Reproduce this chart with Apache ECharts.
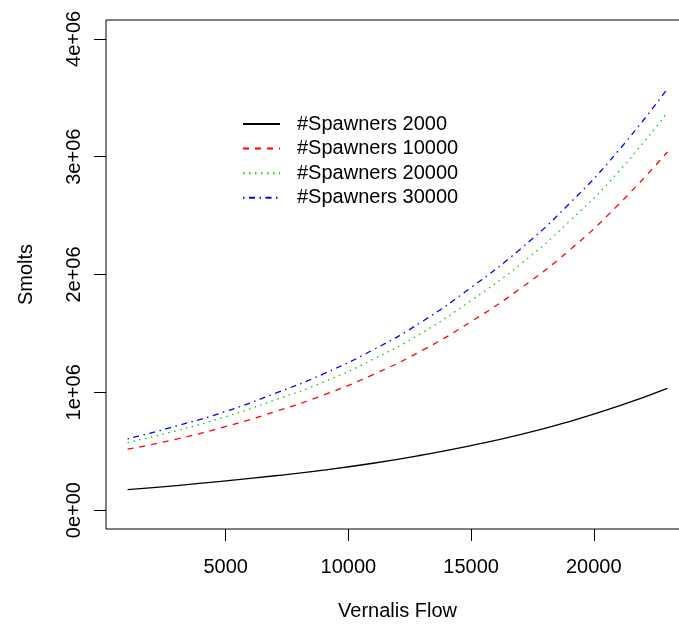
<!DOCTYPE html>
<html>
<head>
<meta charset="utf-8">
<script src="https://cdn.jsdelivr.net/npm/echarts@6/dist/echarts.min.js"></script>
<style>
html,body{margin:0;padding:0;background:#fff;}
#chart{width:679px;height:630px;}
</style>
</head>
<body>
<div id="chart"></div>
<script>
// ---- data ----
const flow = [1000, 3000, 5000, 7000, 9000, 11000, 13000, 15000, 17000, 19000, 21000, 23000];
const seriesNames = ["#Spawners 2000", "#Spawners 10000", "#Spawners 20000", "#Spawners 30000"];
const spawners2000  = [174000, 208000, 248000, 292000, 340000, 398000, 468000, 548000, 640000, 752000, 882000, 1034000];
const spawners10000 = [517000, 603000, 710000, 835000, 978000, 1150000, 1355000, 1600000, 1880000, 2205000, 2592000, 3040000];
const spawners20000 = [573000, 675000, 793000, 935000, 1088000, 1280000, 1505000, 1780000, 2085000, 2450000, 2870000, 3377000];
const spawners30000 = [605000, 715000, 838000, 990000, 1158000, 1360000, 1600000, 1890000, 2215000, 2600000, 3050000, 3576000];
const xTickValues = [5000, 10000, 15000, 20000];
const xTickLabels = ["5000", "10000", "15000", "20000"];
const yTickValues = [0, 1000000, 2000000, 3000000, 4000000];
const yTickLabels = ["0e+00", "1e+06", "2e+06", "3e+06", "4e+06"];

const FONT = "'Liberation Sans', Arial, sans-serif";
const pair = (ys) => flow.map((x, i) => [x, ys[i]]);

const styles = [
  { color: '#000000', type: 'solid' },
  { color: '#FF0000', type: [6, 6] },
  { color: '#00CD00', type: [1.5, 4.5] },
  { color: '#0000FF', type: [1.5, 4.5, 6, 4.5] }
];
const allData = [spawners2000, spawners10000, spawners20000, spawners30000];

const chart = echarts.init(document.getElementById('chart'), null, { renderer: 'canvas' });
chart.setOption({
  animation: false,
  backgroundColor: '#ffffff',
  textStyle: { fontFamily: FONT },
  grid: {
    left: 106, top: 20, width: 583, height: 509,
    show: true, borderColor: '#000', borderWidth: 1,
    containLabel: false, outerBoundsMode: 'none'
  },
  legend: {
    orient: 'vertical',
    left: 242, top: 114, padding: 0,
    itemWidth: 37, itemHeight: 20, itemGap: 4.6,
    itemStyle: { opacity: 0, borderWidth: 0 },
    textStyle: { fontFamily: FONT, fontSize: 20, color: '#000', lineHeight: 20, padding: [0, 0, 0, 12] },
    data: seriesNames
  },
  xAxis: {
    type: 'value', min: 120, max: 23880,
    name: 'Vernalis Flow', nameLocation: 'middle', nameGap: 72,
    nameTextStyle: { fontFamily: FONT, fontSize: 20, color: '#000' },
    axisLine: { show: false, onZero: false },
    splitLine: { show: false },
    axisTick: { show: true, length: 12, customValues: xTickValues, lineStyle: { color: '#000', width: 1 } },
    axisLabel: {
      customValues: xTickValues, margin: 28, fontFamily: FONT, fontSize: 20, color: '#000',
      formatter: (v) => { const i = xTickValues.indexOf(v); return i >= 0 ? xTickLabels[i] : ''; }
    }
  },
  yAxis: {
    type: 'value', min: -160000, max: 4160000,
    name: 'Smolts', nameLocation: 'middle', nameGap: 70,
    nameTextStyle: { fontFamily: FONT, fontSize: 20, color: '#000' },
    axisLine: { show: false, onZero: false },
    splitLine: { show: false },
    axisTick: { show: true, length: 12, customValues: yTickValues, lineStyle: { color: '#000', width: 1 } },
    axisLabel: {
      customValues: yTickValues, margin: 22, rotate: 90, fontFamily: FONT, fontSize: 20, color: '#000',
      formatter: (v) => { const i = yTickValues.indexOf(v); return i >= 0 ? yTickLabels[i] : ''; }
    }
  },
  series: allData.map((d, k) => ({
    name: seriesNames[k],
    type: 'line',
    data: pair(d),
    smooth: 0.5,
    symbol: 'none',
    showSymbol: false,
    lineStyle: { color: styles[k].color, width: 1.3, type: styles[k].type },
    itemStyle: { color: styles[k].color },
    z: 2 + k
  }))
});
</script>
</body>
</html>
